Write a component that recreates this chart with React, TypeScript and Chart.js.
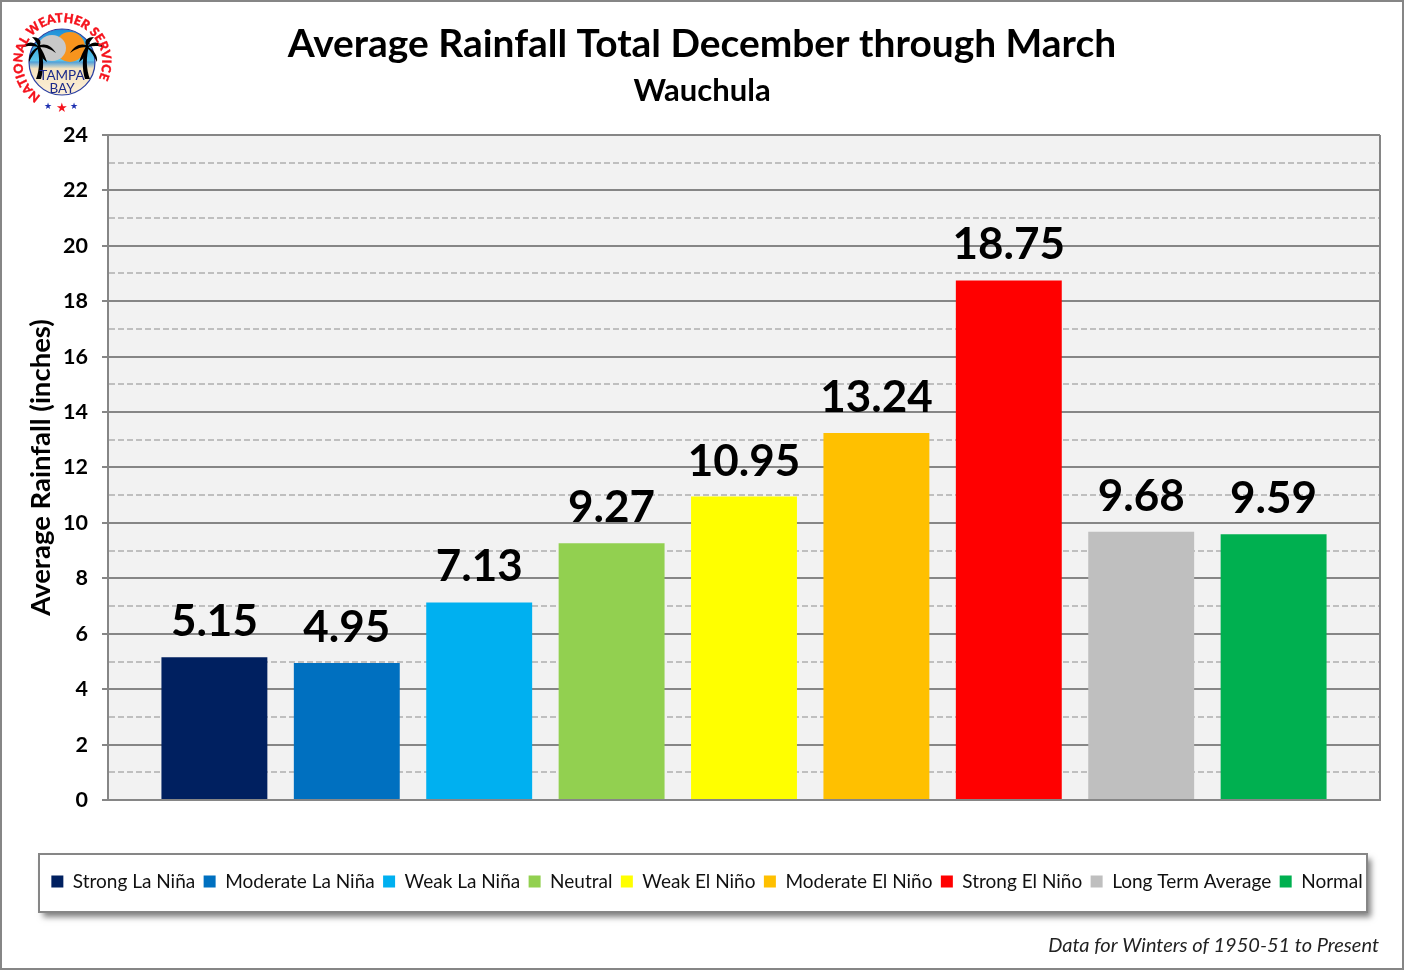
import React, { useEffect, useRef } from 'react';
import { Chart, registerables } from 'chart.js';

Chart.register(...registerables);

const FONT = 'Lato, sans-serif';
const GRID_DARK = '#868686';
const GRID_DASH = '#bfbfbf';

const WINTER = ['Winter'];
const phases = [
  'Strong La Niña', 'Moderate La Niña', 'Weak La Niña', 'Neutral', 'Weak El Niño',
  'Moderate El Niño', 'Strong El Niño', 'Long Term Average', 'Normal',
];
const rainfall = [5.15, 4.95, 7.13, 9.27, 10.95, 13.24, 18.75, 9.68, 9.59];
const phaseColors = [
  '#002060', '#0070C0', '#00B0F0', '#92D050', '#FFFF00',
  '#FFC000', '#FF0000', '#BFBFBF', '#00B050',
];

// plot background, frame and the shadowed legend box, all under the bars
const backdrop = {
  id: 'backdrop',
  afterLayout(chart: any) {
    // the legend sits a little right of centre in the original
    chart.legend.left += 5;
    chart.legend.right += 5;
  },
  beforeDraw(chart: Chart) {
    const { ctx, chartArea: a } = chart;
    ctx.save();
    ctx.fillStyle = '#f2f2f2';
    ctx.fillRect(a.left, a.top, a.right - a.left, a.bottom - a.top);
    ctx.shadowColor = 'rgba(0,0,0,0.5)';
    ctx.shadowBlur = 6;
    ctx.shadowOffsetX = 4;
    ctx.shadowOffsetY = 5;
    ctx.fillStyle = '#fff';
    ctx.fillRect(39, 854, 1328, 58);
    ctx.shadowColor = 'transparent';
    ctx.strokeStyle = GRID_DARK;
    ctx.lineWidth = 2;
    ctx.strokeRect(39, 854, 1328, 58);
    ctx.restore();
  },
  afterDatasetsDraw(chart: Chart) {
    const { ctx, chartArea: a } = chart;
    ctx.save();
    ctx.strokeStyle = GRID_DARK;
    ctx.lineWidth = 2;
    ctx.beginPath();
    ctx.moveTo(a.left, a.bottom);
    ctx.lineTo(a.right, a.bottom);
    ctx.lineTo(a.right, a.top);
    ctx.stroke();
    ctx.restore();
  },
};

// big value over each bar and the footnote
const valueLabels = {
  id: 'valueLabels',
  afterDraw(chart: Chart) {
    const { ctx } = chart;
    ctx.save();
    ctx.fillStyle = '#000';
    ctx.textAlign = 'center';
    ctx.textBaseline = 'alphabetic';
    ctx.font = `bold 44px ${FONT}`;
    chart.data.datasets.forEach((ds, i) => {
      const bar = chart.getDatasetMeta(i).data[0];
      ctx.fillText((ds.data[0] as number).toFixed(2), bar.x, bar.y - 21);
    });
    ctx.fillStyle = '#222';
    ctx.textAlign = 'right';
    ctx.font = `italic 20px ${FONT}`;
    ctx.fillText('Data for Winters of 1950-51 to Present', 1379, 952);
    ctx.restore();
  },
};

const Palm: React.FC<{ flip?: boolean }> = ({ flip }) => (
  <g transform={flip ? 'translate(116 0) scale(-1 1)' : undefined} fill="#000">
    <path d="M31 74 C35 64 35 52 32 41 L35 41 C39 52 39 64 36 74 Z" />
    <path d="M33 41 C27 35 21 37 16 43 C23 40 28 41 33 42 C27 45 23 51 24 57 C27 51 30 46 34 43 C34 49 38 55 42 57 C40 51 38 46 35 42 C41 42 47 45 51 48 C47 41 41 38 35 40 C37 35 33 32 27 32 C30 35 32 38 33 41 Z" />
  </g>
);

const Logo: React.FC = () => (
  <svg width={115} height={115} viewBox="0 0 115 115"
    style={{ position: 'absolute', left: 5, top: 5 }}>
    <defs>
      <linearGradient id="sky" x1="0" y1="0" x2="0" y2="1">
        <stop offset="0" stopColor="#1c8ed8" />
        <stop offset="0.48" stopColor="#5cc4ea" />
        <stop offset="0.5" stopColor="#4f9fd8" />
        <stop offset="0.6" stopColor="#f4e3c0" />
        <stop offset="1" stopColor="#fdf0d8" />
      </linearGradient>
      <path id="ring" d="M 36 91 A 40 40 0 1 1 84 87" fill="none" />
    </defs>
    <circle cx={57} cy={57} r={33} fill="url(#sky)" stroke="#2b3fa0" strokeWidth={1.2} />
    <circle cx={65} cy={42} r={15} fill="#f7941d" />
    <ellipse cx={47} cy={43} rx={14} ry={13} fill="#c8c8c8" />
    <Palm />
    <Palm flip />
    <text x={57} y={75} textAnchor="middle" fontFamily={FONT} fontSize={13.5} fill="#1b2a8a">TAMPA</text>
    <text x={57} y={88} textAnchor="middle" fontFamily={FONT} fontSize={13.5} fill="#1b2a8a">BAY</text>
    <text fontFamily={FONT} fontWeight={900} fontSize={12.5} fill="#f5121c" stroke="#f5121c" strokeWidth={0.4} letterSpacing={0.1}>
      <textPath href="#ring">NATIONAL WEATHER SERVICE</textPath>
    </text>
    <text x={43} y={104} textAnchor="middle" fontSize={9} fill="#1c2fb0">★</text>
    <text x={57} y={107} textAnchor="middle" fontSize={13} fill="#f5121c">★</text>
    <text x={69} y={104} textAnchor="middle" fontSize={9} fill="#1c2fb0">★</text>
  </svg>
);

const App: React.FC = () => {
  const canvasRef = useRef<HTMLCanvasElement>(null);

  useEffect(() => {
    if (!canvasRef.current) return;
    const chart = new Chart(canvasRef.current, {
      type: 'bar',
      data: {
        labels: WINTER,
        datasets: phases.map((name, i) => ({
          label: name,
          data: [rainfall[i]],
          backgroundColor: phaseColors[i],
          categoryPercentage: 0.9368,
          barPercentage: 0.8,
        })),
      },
      options: {
        responsive: false,
        animation: false,
        layout: { padding: { left: 0, right: 0, top: 0, bottom: 69 } },
        scales: {
          x: {
            ticks: { display: false },
            grid: { display: false },
            border: { display: false },
            afterFit: (s: any) => { s.height = 63.5; },
          },
          y: {
            min: 0,
            max: 24,
            ticks: {
              stepSize: 1,
              autoSkip: false,
              color: '#000',
              padding: 14,
              font: { family: FONT, size: 21.5, weight: 'bold' },
              callback: (v: any) => (v % 2 === 0 ? String(v) : ''),
            },
            grid: {
              color: (c: any) => (c.tick.value % 2 === 0 ? GRID_DARK : GRID_DASH),
              lineWidth: 2,
              tickLength: 6,
              tickColor: (c: any) => (c.tick.value % 2 === 0 ? GRID_DARK : 'transparent'),
            },
            border: {
              color: GRID_DARK,
              width: 2,
              dash: (c: any) => (c.tick.value % 2 === 0 ? [] : [6, 3]),
            },
            title: {
              display: true,
              text: 'Average Rainfall (inches)',
              color: '#000',
              padding: { top: 25, bottom: 0 },
              font: { family: FONT, size: 27.5, weight: 'bold' },
            },
            afterFit: (s: any) => { s.width = 108; },
          } as any,
          // empty axis that only keeps the right margin, so the title stays centred on the page
          yRight: {
            position: 'right',
            ticks: { display: false },
            grid: { display: false },
            border: { display: false },
            afterFit: (s: any) => { s.width = 24; },
          } as any,
        },
        plugins: {
          title: {
            display: true,
            text: 'Average Rainfall Total December through March',
            color: '#000',
            padding: { top: 21.5, bottom: 4.5 },
            font: { family: FONT, size: 38.9, weight: 'bold' },
          },
          subtitle: {
            display: true,
            text: 'Wauchula',
            color: '#000',
            padding: { top: 0, bottom: 25 },
            font: { family: FONT, size: 31, weight: 'bold' },
          },
          legend: {
            position: 'bottom',
            labels: {
              boxWidth: 12,
              boxHeight: 12,
              padding: 8.4,
              color: '#111',
              font: { family: FONT, size: 19 },
            },
          },
          tooltip: { enabled: false },
        },
      },
      plugins: [backdrop, valueLabels],
    });
    return () => chart.destroy();
  }, []);

  return (
    <div style={{ position: 'absolute', left: 0, top: 0, width: 1404, height: 970, background: '#fff' }}>
      <canvas ref={canvasRef} width={1404} height={970} style={{ display: 'block' }} />
      <div style={{ position: 'absolute', inset: 0, boxSizing: 'border-box', border: '2px solid #868686' }} />
      <Logo />
    </div>
  );
};

export default App;
